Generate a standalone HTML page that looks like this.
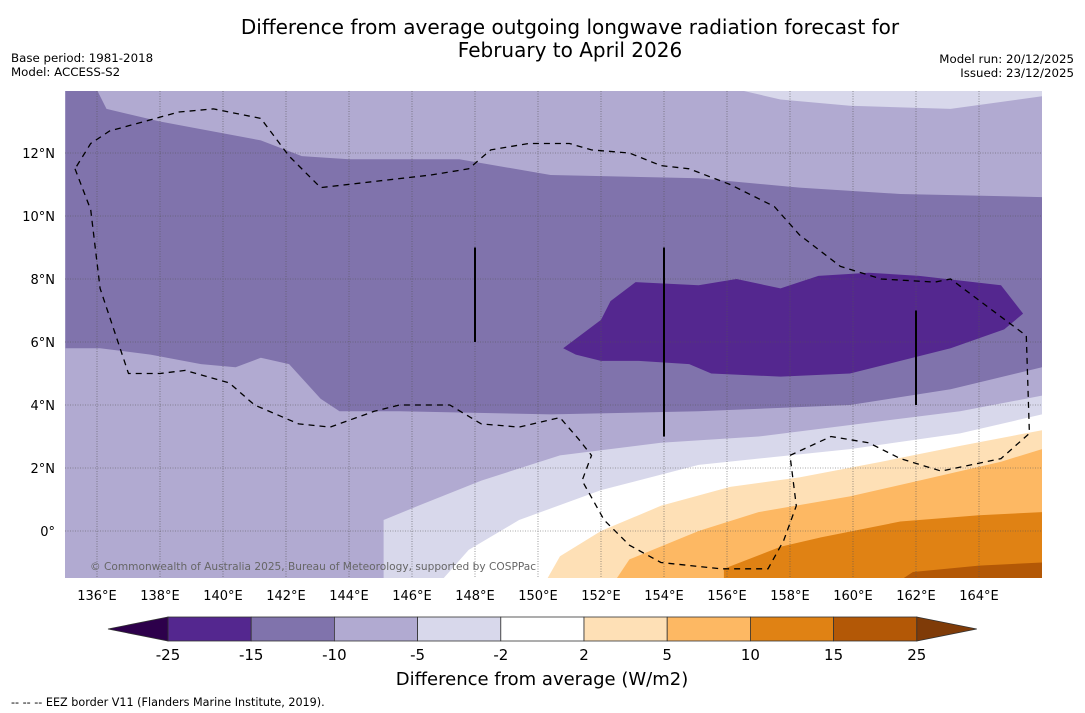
<!DOCTYPE html>
<html><head><meta charset="utf-8"><style>
body{margin:0;background:#fff;width:1085px;height:713px;overflow:hidden;font-family:"DejaVu Sans","Liberation Sans",sans-serif}
svg{position:absolute;left:0;top:0}
</style></head><body>
<svg id="s" width="1085" height="713" font-family="DejaVu Sans, Liberation Sans, sans-serif">
<text x="570" y="34" text-anchor="middle" font-size="20">Difference from average outgoing longwave radiation forecast for</text>
<text x="570" y="57" text-anchor="middle" font-size="20">February to April 2026</text>
<text x="11" y="62" font-size="11.8">Base period: 1981-2018</text>
<text x="11" y="76" font-size="11.8">Model: ACCESS-S2</text>
<text x="1074" y="63" font-size="11.8" text-anchor="end">Model run: 20/12/2025</text>
<text x="1074" y="77" font-size="11.8" text-anchor="end">Issued: 23/12/2025</text>
<defs><clipPath id="mc"><rect x="65" y="91" width="977" height="487"/></clipPath></defs>
<g id="map" clip-path="url(#mc)"></g>
<g id="grid"></g>
<g id="overlay" clip-path="url(#mc)"></g>
<text x="90" y="570" font-size="10.6" fill="#666">© Commonwealth of Australia 2025, Bureau of Meteorology, supported by COSPPac</text>
<g id="cbar"></g>
<text x="542" y="685" text-anchor="middle" font-size="18">Difference from average (W/m2)</text>
<text x="11" y="706" font-size="11.2">--  --  -- EEZ border V11 (Flanders Marine Institute, 2019).</text>
</svg>
<script>
const levels=[-25,-15,-10,-5,-2,2,5,10,15,25];
const colors=["#54278f","#8073ac","#b1aad1","#d8d8eb","#ffffff","#fee0b6","#fdb863","#e08214","#b35806"];
const endColors=["#2d004b","#7f3b08"];
const lonTicks=[136,138,140,142,144,146,148,150,152,154,156,158,160,162,164];
const latTicks=[0,2,4,6,8,10,12];
const band15=[[135,14],[136,14],[136.3,13.4],[138,13],[141.2,12.4],[142.5,11.9],[144,11.8],[147.5,11.8],[150.4,11.3],[155.1,11.2],[158.3,10.9],[161.5,10.7],[166,10.6],[166,5.2],[163.1,4.5],[159.9,4.0],[155.1,3.8],[150.4,3.7],[145.6,3.8],[143.7,3.8],[143.1,4.2],[142.1,5.3],[141.2,5.5],[140.4,5.2],[139.3,5.3],[137.7,5.6],[136.1,5.8],[135,5.8]];
const band25=[[150.8,5.8],[152,6.7],[152.3,7.3],[153.1,7.9],[155.1,7.8],[156.3,8.0],[157.7,7.7],[158.9,8.1],[160.5,8.2],[162.1,8.1],[164.7,7.8],[165.4,6.9],[164.8,6.4],[163.1,5.8],[161.5,5.4],[159.9,5.0],[157.7,4.9],[155.5,5.0],[154.8,5.3],[153.2,5.4],[152,5.4],[151.2,5.6]];
const topLight=[[156.4,14],[157.7,13.7],[159.9,13.5],[163.1,13.4],[166,13.8],[166,14]];
const bandM5=[[145.1,-1.5],[145.1,0.35],[146.2,0.8],[148.2,1.6],[150.7,2.4],[153.9,2.8],[157,3.0],[160.2,3.4],[163.4,3.8],[166,4.3]];
const bandM2=[[147,-1.5],[147.8,-0.6],[149.4,0.35],[152,1.3],[155.1,2.1],[159.9,2.6],[163.4,3.1],[166,3.7]];
const band5=[[150.3,-1.5],[150.7,-0.8],[152,0],[153.9,0.8],[156.1,1.4],[158.3,1.7],[160.9,2.2],[163.4,2.7],[166,3.2]];
const band10=[[152.5,-1.5],[152.9,-0.9],[155.1,0],[157,0.6],[159.9,1.1],[162.1,1.6],[164.7,2.2],[166,2.6]];
const band15p=[[155.9,-1.5],[155.9,-1.2],[157.7,-0.5],[159,-0.2],[161.5,0.3],[164,0.5],[166,0.6]];
const band25p=[[161.6,-1.5],[161.9,-1.3],[164,-1.1],[166,-1]];
const eez=[[135.3,11.5],[135.8,10.2],[136.1,7.7],[137,5],[138,5],[138.8,5.1],[140.2,4.7],[141,4],[142.4,3.4],[143.4,3.3],[144.8,3.8],[145.6,4],[147.2,4],[148.2,3.4],[149.4,3.3],[150.7,3.6],[151.3,2.9],[151.7,2.4],[151.4,1.6],[152.1,0.35],[152.9,-0.45],[153.9,-1],[155.8,-1.2],[157.3,-1.2],[157.8,-0.3],[158.2,0.8],[158,2.4],[159.3,3],[160.5,2.8],[161.5,2.3],[162.8,1.9],[164.7,2.3],[165.6,3.1],[165.5,6.2],[164.7,6.8],[163.1,8],[162.6,7.9],[160.9,8],[159.6,8.4],[158.3,9.4],[157.5,10.3],[156.1,11],[154.8,11.5],[153.9,11.6],[152.9,12],[151.7,12.1],[151,12.3],[149.7,12.3],[148.5,12.1],[147.8,11.5],[146.6,11.3],[143.1,10.9],[142.1,11.9],[141.2,13.1],[139.7,13.4],[138.6,13.3],[137.5,13],[136.4,12.7],[135.8,12.3],[135.3,11.5]];
const vlines=[[148,6,9],[154,3,9],[162,4,7]];
const NS="http://www.w3.org/2000/svg";
const X=lon=>65.5+(lon-135)*31.5, Y=lat=>531-lat*31.5;
function mk(t,p,a){const e=document.createElementNS(NS,t);for(const k in a)e.setAttribute(k,a[k]);p.appendChild(e);return e;}
const map=document.getElementById('map');
function pts(a){return a.map(p=>X(p[0]).toFixed(1)+','+Y(p[1]).toFixed(1)).join(' ');}
let r=mk('rect',map,{x:65,y:91,width:977,height:487,fill:colors[2]});


function poly(arr,col,name,closeBottom){
  let a=arr.slice();
  if(closeBottom){a.push([166,-1.6]);a.push([arr[0][0],-1.6]);}
  const e=mk('polygon',map,{points:pts(a),fill:col});
  
  
}
poly(band15,colors[1],'contour-minus15-minus10',false);
poly(band25,colors[0],'contour-minus25-minus15',false);
poly(topLight,colors[3],'contour-top-minus5-minus2',false);
poly(bandM5,colors[3],'contour-minus5-minus2',true);
poly(bandM2,colors[4],'contour-minus2-2',true);
poly(band5,colors[5],'contour-2-5',true);
poly(band10,colors[6],'contour-5-10',true);
poly(band15p,colors[7],'contour-10-15',true);
poly(band25p,colors[8],'contour-15-25',true);
const grid=document.getElementById('grid');
lonTicks.forEach(l=>{
  const g=mk('line',grid,{x1:X(l),x2:X(l),y1:91,y2:578,stroke:'#555','stroke-width':0.6,'stroke-dasharray':'1,1.5'});
  
  
  const t=mk('text',grid,{x:X(l),y:600,'text-anchor':'middle','font-size':13});
  t.textContent=l+'°E';
  
  
});
latTicks.forEach(l=>{
  const g=mk('line',grid,{x1:65,x2:1042,y1:Y(l),y2:Y(l),stroke:'#555','stroke-width':0.6,'stroke-dasharray':'1,1.5'});
  
  
  const t=mk('text',grid,{x:55,y:Y(l)+5,'text-anchor':'end','font-size':13});
  t.textContent=l===0?'0°':l+'°N';
  
  
});
const ov=document.getElementById('overlay');
const ez=mk('polyline',ov,{points:pts(eez),fill:'none',stroke:'#000','stroke-width':1.3,'stroke-dasharray':'6,5'});


vlines.forEach(v=>{
  const l=mk('line',ov,{x1:X(v[0]),x2:X(v[0]),y1:Y(v[2]),y2:Y(v[1]),stroke:'#000','stroke-width':2});
  
  
});
const cb=document.getElementById('cbar');
const cx0=168,cw=83.2,cy=617,ch=24;
colors.forEach((c,i)=>{
  const b=mk('rect',cb,{x:cx0+i*cw,y:cy,width:cw,height:ch,fill:c,stroke:'#333','stroke-width':0.8});
  
  
});
levels.forEach((v,i)=>{
  const t=mk('text',cb,{x:cx0+i*cw,y:660,'text-anchor':'middle','font-size':15});
  t.textContent=v;
  
  
});
const xe=cx0+colors.length*cw;
const lt=mk('polygon',cb,{points:`${cx0},${cy} 108,${cy+ch/2} ${cx0},${cy+ch}`,fill:endColors[0],stroke:'#333','stroke-width':0.8});


const rt=mk('polygon',cb,{points:`${xe},${cy} ${xe+60},${cy+ch/2} ${xe},${cy+ch}`,fill:endColors[1],stroke:'#333','stroke-width':0.8});


</script>
</body></html>
